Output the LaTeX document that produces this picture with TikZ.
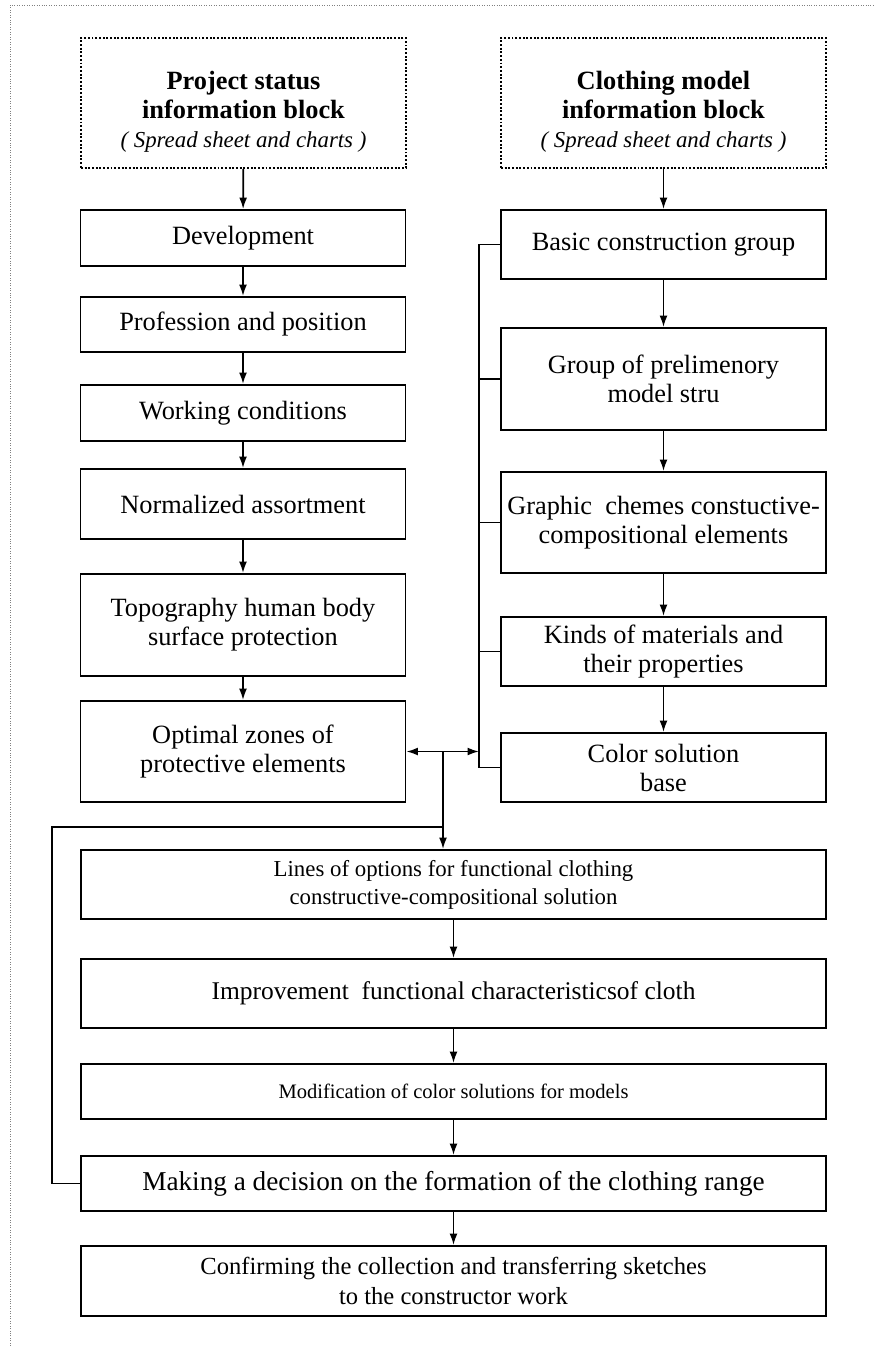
\documentclass[tikz,border=0pt]{standalone}
\usepackage{fontspec}
\setmainfont{Liberation Serif}
\usetikzlibrary{arrows.meta}

\tikzset{
  blk/.style={draw, line width=1.1pt, align=center, inner sep=2pt,
    minimum width=6.5cm, font=\fontsize{15}{16.5}\selectfont},
  infoblk/.style={blk, densely dotted, line width=1.4pt},
  wideblk/.style={blk, minimum width=14.9cm},
  arr/.style={-{Latex[length=6.5pt,width=4.5pt]}, line width=1pt},
  lnk/.style={line width=1pt},
}

\begin{document}
\begin{tikzpicture}[x=0.02cm, y=-0.02cm]
\useasboundingbox (0,0) rectangle (873,1346);
\draw[gray, densely dotted, line width=0.4pt] (10,1346) -- (10,5) -- (873,5);

% left column
\node[infoblk, minimum height=2.6cm] (status) at (243.5,103)
  {\rule{0pt}{20pt}\textbf{Project status}\\\textbf{information block}\\
   {\itshape\fontsize{13}{16}\selectfont ( Spread sheet and charts )}};
\node[blk, minimum height=1.12cm] (dev) at (243,238) {Development};
\node[blk, minimum height=1.1cm] (prof) at (243,324.5) {Profession and position};
\node[blk, minimum height=1.12cm] (work) at (243,413) {Working conditions};
\node[blk, minimum height=1.4cm] (norm) at (243,504) {Normalized assortment};
\node[blk, minimum height=2.04cm] (topo) at (243,625) {Topography human body\\surface protection};
\node[blk, minimum height=2.02cm] (optim) at (243,751.5) {Optimal zones of\\protective elements};

% right column
\node[infoblk, minimum height=2.6cm] (model) at (663.5,103)
  {\rule{0pt}{20pt}\textbf{Clothing model}\\\textbf{information block}\\
   {\itshape\fontsize{13}{16}\selectfont ( Spread sheet and charts )}};
\node[blk, minimum height=1.38cm] (basic) at (663.5,244.5) {Basic construction group};
\node[blk, minimum height=2.04cm] (group) at (663.5,379) {Group of prelimenory\\model stru};
\node[blk, minimum height=2.02cm] (graph) at (663.5,522.5) {Graphic~ chemes constuctive-\\compositional elements};
\node[blk, minimum height=1.38cm] (kinds) at (663.5,651.5) {Kinds of materials and\\their properties};
\node[blk, minimum height=1.38cm] (color) at (663.5,767.5) {Color solution\\base};

% bottom part
\node[wideblk, minimum height=1.38cm, font=\fontsize{13}{16}\selectfont] (lines) at (453.5,884.5)
  {Lines of options for functional clothing\\constructive-compositional solution};
\node[wideblk, minimum height=1.38cm, font=\fontsize{14.5}{16}\selectfont] (improv) at (453.5,993.5)
  {Improvement~ functional characteristicsof cloth};
\node[wideblk, minimum height=1.1cm, font=\fontsize{11.7}{14}\selectfont] (modif) at (453.5,1091.5)
  {Modification of color solutions for models};
\node[wideblk, minimum height=1.1cm, font=\fontsize{15.5}{17}\selectfont] (making) at (453.5,1183.5)
  {Making a decision on the formation of the clothing range};
\node[wideblk, minimum height=1.4cm, font=\fontsize{14}{17}\selectfont] (confirm) at (453.5,1281)
  {Confirming the collection and transferring sketches\\to the constructor work};

% arrows
\foreach \a/\b in {status/dev, dev/prof, prof/work, work/norm, norm/topo, topo/optim,
  model/basic, basic/group, group/graph, graph/kinds, kinds/color,
  lines/improv, improv/modif, modif/making, making/confirm}
  \draw[arr] (\a) -- (\b);

% bracket
\coordinate (br) at (479,244.5);
\draw[lnk] (basic.west) -- (br) -- (br |- color.west) -- (color.west);
\foreach \n in {group, graph, kinds}
  \draw[lnk] (\n.west) -- (\n.west -| br);

\draw[{Latex[length=6.5pt,width=4.5pt]}-{Latex[length=6.5pt,width=4.5pt]}, line width=1pt]
  (optim.east) -- (optim.east -| br);
\coordinate (jn) at (443,751.5);
\draw[arr] (jn) -- (jn |- lines.north);

% feedback
\coordinate (fb) at (52,827);
\draw[lnk] (making.west) -| (fb) -- (fb -| jn);
\end{tikzpicture}
\end{document}
